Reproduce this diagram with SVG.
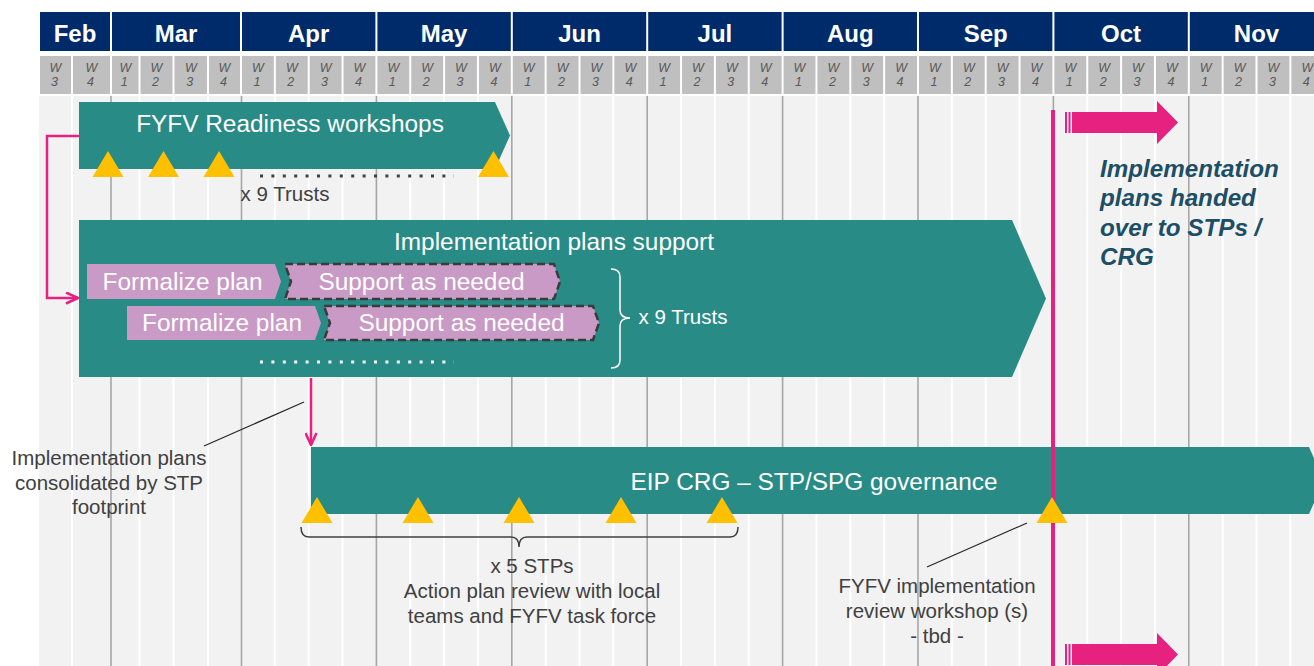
<svg xmlns="http://www.w3.org/2000/svg" width="1314" height="666" viewBox="0 0 1314 666">
<defs>
<style>
.mon{fill:#002B6A}
.mt{font-family:"Liberation Sans",Arial,sans-serif;font-size:24px;font-weight:bold;fill:#fff;text-anchor:middle}
.wc{fill:#BFBFBF}
.wk{font-family:"Liberation Sans",Arial,sans-serif;font-size:12.5px;font-style:italic;fill:#595959;text-anchor:middle}
.wl{stroke:#fff;stroke-width:2}
.ml{stroke:#A6A6A6;stroke-width:1.6}
.teal{fill:#288B86}
.bt{font-family:"Liberation Sans",Arial,sans-serif;font-size:24.4px;fill:#fff;text-anchor:middle}
.lav{fill:#C99AC6}
.dash{stroke:#3A3A3A;stroke-width:2.5;stroke-dasharray:8 4}
.tri{fill:#FFC000}
.lbl{font-family:"Liberation Sans",Arial,sans-serif;font-size:20.5px;fill:#404040;text-anchor:middle}
.pk{stroke:#E6217F;stroke-width:2.5;fill:none}
.pkf{fill:#E6217F}
.lead{stroke:#262626;stroke-width:1.2;fill:none}
.hand{font-family:"Liberation Sans",Arial,sans-serif;font-size:24.2px;font-weight:bold;font-style:italic;fill:#1C4E66}
</style>
<marker id="openhead" viewBox="0 0 14 13" refX="13" refY="6.5" markerWidth="14" markerHeight="13" markerUnits="userSpaceOnUse" orient="auto">
<path d="M1,1 L13,6.5 L1,12" fill="none" stroke="#E6217F" stroke-width="2.5"/>
</marker>
</defs>

<g id="background">
<rect x="39" y="96" width="1275" height="570" fill="#F2F2F2"/>
<g class="wl">
<line x1="72" y1="96" x2="72" y2="666"/>
<line x1="139.5" y1="96" x2="139.5" y2="666"/>
<line x1="173.5" y1="96" x2="173.5" y2="666"/>
<line x1="208" y1="96" x2="208" y2="666"/>
<line x1="274.85" y1="96" x2="274.85" y2="666"/>
<line x1="308.7" y1="96" x2="308.7" y2="666"/>
<line x1="342.55" y1="96" x2="342.55" y2="666"/>
<line x1="410.25" y1="96" x2="410.25" y2="666"/>
<line x1="444.1" y1="96" x2="444.1" y2="666"/>
<line x1="477.95" y1="96" x2="477.95" y2="666"/>
<line x1="545.65" y1="96" x2="545.65" y2="666"/>
<line x1="579.5" y1="96" x2="579.5" y2="666"/>
<line x1="613.35" y1="96" x2="613.35" y2="666"/>
<line x1="681.05" y1="96" x2="681.05" y2="666"/>
<line x1="714.9" y1="96" x2="714.9" y2="666"/>
<line x1="748.75" y1="96" x2="748.75" y2="666"/>
<line x1="816.45" y1="96" x2="816.45" y2="666"/>
<line x1="850.3" y1="96" x2="850.3" y2="666"/>
<line x1="884.15" y1="96" x2="884.15" y2="666"/>
<line x1="951.85" y1="96" x2="951.85" y2="666"/>
<line x1="985.7" y1="96" x2="985.7" y2="666"/>
<line x1="1019.55" y1="96" x2="1019.55" y2="666"/>
<line x1="1087.25" y1="96" x2="1087.25" y2="666"/>
<line x1="1121.1" y1="96" x2="1121.1" y2="666"/>
<line x1="1154.95" y1="96" x2="1154.95" y2="666"/>
<line x1="1222.65" y1="96" x2="1222.65" y2="666"/>
<line x1="1256.5" y1="96" x2="1256.5" y2="666"/>
<line x1="1290.35" y1="96" x2="1290.35" y2="666"/>
</g>
<g class="ml">
<line x1="111" y1="96" x2="111" y2="666"/>
<line x1="241.5" y1="96" x2="241.5" y2="666"/>
<line x1="376.4" y1="96" x2="376.4" y2="666"/>
<line x1="511.8" y1="96" x2="511.8" y2="666"/>
<line x1="647.2" y1="96" x2="647.2" y2="666"/>
<line x1="782.6" y1="96" x2="782.6" y2="666"/>
<line x1="918" y1="96" x2="918" y2="666"/>
<line x1="1053.4" y1="96" x2="1053.4" y2="666"/>
<line x1="1188.8" y1="96" x2="1188.8" y2="666"/>
</g>
</g>

<g id="header">
<rect class="mon" x="40" y="12" width="70" height="39"/>
<rect class="mon" x="112" y="12" width="128" height="39"/>
<rect class="mon" x="242" y="12" width="133.4" height="39"/>
<rect class="mon" x="377.4" y="12" width="133.4" height="39"/>
<rect class="mon" x="512.8" y="12" width="133.4" height="39"/>
<rect class="mon" x="648.2" y="12" width="133.4" height="39"/>
<rect class="mon" x="783.6" y="12" width="133.4" height="39"/>
<rect class="mon" x="919" y="12" width="133.4" height="39"/>
<rect class="mon" x="1054.4" y="12" width="133.4" height="39"/>
<rect class="mon" x="1189.8" y="12" width="133.4" height="39"/>
<text class="mt" x="75" y="42">Feb</text>
<text class="mt" x="176" y="42">Mar</text>
<text class="mt" x="308.7" y="42">Apr</text>
<text class="mt" x="444.1" y="42">May</text>
<text class="mt" x="579.5" y="42">Jun</text>
<text class="mt" x="714.9" y="42">Jul</text>
<text class="mt" x="850.3" y="42">Aug</text>
<text class="mt" x="985.7" y="42">Sep</text>
<text class="mt" x="1121.1" y="42">Oct</text>
<text class="mt" x="1256.5" y="42">Nov</text>
<g id="weeks">
<rect class="wc" x="40" y="56" width="31" height="38"/>
<rect class="wc" x="73" y="56" width="37" height="38"/>
<rect class="wc" x="112" y="56" width="26.5" height="38"/>
<rect class="wc" x="140.5" y="56" width="32" height="38"/>
<rect class="wc" x="174.5" y="56" width="32.5" height="38"/>
<rect class="wc" x="209" y="56" width="31" height="38"/>
<rect class="wc" x="242" y="56" width="31.85" height="38"/>
<rect class="wc" x="275.85" y="56" width="31.85" height="38"/>
<rect class="wc" x="309.7" y="56" width="31.85" height="38"/>
<rect class="wc" x="343.55" y="56" width="31.85" height="38"/>
<rect class="wc" x="377.4" y="56" width="31.85" height="38"/>
<rect class="wc" x="411.25" y="56" width="31.85" height="38"/>
<rect class="wc" x="445.1" y="56" width="31.85" height="38"/>
<rect class="wc" x="478.95" y="56" width="31.85" height="38"/>
<rect class="wc" x="512.8" y="56" width="31.85" height="38"/>
<rect class="wc" x="546.65" y="56" width="31.85" height="38"/>
<rect class="wc" x="580.5" y="56" width="31.85" height="38"/>
<rect class="wc" x="614.35" y="56" width="31.85" height="38"/>
<rect class="wc" x="648.2" y="56" width="31.85" height="38"/>
<rect class="wc" x="682.05" y="56" width="31.85" height="38"/>
<rect class="wc" x="715.9" y="56" width="31.85" height="38"/>
<rect class="wc" x="749.75" y="56" width="31.85" height="38"/>
<rect class="wc" x="783.6" y="56" width="31.85" height="38"/>
<rect class="wc" x="817.45" y="56" width="31.85" height="38"/>
<rect class="wc" x="851.3" y="56" width="31.85" height="38"/>
<rect class="wc" x="885.15" y="56" width="31.85" height="38"/>
<rect class="wc" x="919" y="56" width="31.85" height="38"/>
<rect class="wc" x="952.85" y="56" width="31.85" height="38"/>
<rect class="wc" x="986.7" y="56" width="31.85" height="38"/>
<rect class="wc" x="1020.55" y="56" width="31.85" height="38"/>
<rect class="wc" x="1054.4" y="56" width="31.85" height="38"/>
<rect class="wc" x="1088.25" y="56" width="31.85" height="38"/>
<rect class="wc" x="1122.1" y="56" width="31.85" height="38"/>
<rect class="wc" x="1155.95" y="56" width="31.85" height="38"/>
<rect class="wc" x="1189.8" y="56" width="31.85" height="38"/>
<rect class="wc" x="1223.65" y="56" width="31.85" height="38"/>
<rect class="wc" x="1257.5" y="56" width="31.85" height="38"/>
<rect class="wc" x="1291.35" y="56" width="31.85" height="38"/>
<text class="wk" x="55.5" y="72">W<tspan x="54.5" dy="14">3</tspan></text>
<text class="wk" x="91.5" y="72">W<tspan x="90.5" dy="14">4</tspan></text>
<text class="wk" x="125.3" y="72">W<tspan x="124.3" dy="14">1</tspan></text>
<text class="wk" x="156.5" y="72">W<tspan x="155.5" dy="14">2</tspan></text>
<text class="wk" x="190.8" y="72">W<tspan x="189.8" dy="14">3</tspan></text>
<text class="wk" x="224.5" y="72">W<tspan x="223.5" dy="14">4</tspan></text>
<text class="wk" x="257.9" y="72">W<tspan x="256.9" dy="14">1</tspan></text>
<text class="wk" x="291.8" y="72">W<tspan x="290.8" dy="14">2</tspan></text>
<text class="wk" x="325.6" y="72">W<tspan x="324.6" dy="14">3</tspan></text>
<text class="wk" x="359.5" y="72">W<tspan x="358.5" dy="14">4</tspan></text>
<text class="wk" x="393.3" y="72">W<tspan x="392.3" dy="14">1</tspan></text>
<text class="wk" x="427.2" y="72">W<tspan x="426.2" dy="14">2</tspan></text>
<text class="wk" x="461" y="72">W<tspan x="460" dy="14">3</tspan></text>
<text class="wk" x="494.9" y="72">W<tspan x="493.9" dy="14">4</tspan></text>
<text class="wk" x="528.7" y="72">W<tspan x="527.7" dy="14">1</tspan></text>
<text class="wk" x="562.6" y="72">W<tspan x="561.6" dy="14">2</tspan></text>
<text class="wk" x="596.4" y="72">W<tspan x="595.4" dy="14">3</tspan></text>
<text class="wk" x="630.3" y="72">W<tspan x="629.3" dy="14">4</tspan></text>
<text class="wk" x="664.1" y="72">W<tspan x="663.1" dy="14">1</tspan></text>
<text class="wk" x="698" y="72">W<tspan x="697" dy="14">2</tspan></text>
<text class="wk" x="731.8" y="72">W<tspan x="730.8" dy="14">3</tspan></text>
<text class="wk" x="765.7" y="72">W<tspan x="764.7" dy="14">4</tspan></text>
<text class="wk" x="799.5" y="72">W<tspan x="798.5" dy="14">1</tspan></text>
<text class="wk" x="833.4" y="72">W<tspan x="832.4" dy="14">2</tspan></text>
<text class="wk" x="867.2" y="72">W<tspan x="866.2" dy="14">3</tspan></text>
<text class="wk" x="901.1" y="72">W<tspan x="900.1" dy="14">4</tspan></text>
<text class="wk" x="934.9" y="72">W<tspan x="933.9" dy="14">1</tspan></text>
<text class="wk" x="968.8" y="72">W<tspan x="967.8" dy="14">2</tspan></text>
<text class="wk" x="1002.6" y="72">W<tspan x="1001.6" dy="14">3</tspan></text>
<text class="wk" x="1036.5" y="72">W<tspan x="1035.5" dy="14">4</tspan></text>
<text class="wk" x="1070.3" y="72">W<tspan x="1069.3" dy="14">1</tspan></text>
<text class="wk" x="1104.2" y="72">W<tspan x="1103.2" dy="14">2</tspan></text>
<text class="wk" x="1138" y="72">W<tspan x="1137" dy="14">3</tspan></text>
<text class="wk" x="1171.9" y="72">W<tspan x="1170.9" dy="14">4</tspan></text>
<text class="wk" x="1205.7" y="72">W<tspan x="1204.7" dy="14">1</tspan></text>
<text class="wk" x="1239.6" y="72">W<tspan x="1238.6" dy="14">2</tspan></text>
<text class="wk" x="1273.4" y="72">W<tspan x="1272.4" dy="14">3</tspan></text>
<text class="wk" x="1307.3" y="72">W<tspan x="1306.3" dy="14">4</tspan></text>
</g>
</g>

<g id="node-fyfv-readiness">
<polygon class="teal" points="79,102 495,102 510,135.5 495,169 79,169"/>
<text class="bt" x="290" y="132">FYFV Readiness workshops</text>
<line x1="260" y1="176" x2="454" y2="176" stroke="#404040" stroke-width="3" stroke-dasharray="3 8.4"/>
<text class="lbl" x="285" y="201">x 9 Trusts</text>
</g>

<g id="node-impl-support">
<polygon class="teal" points="79,220 1012,220 1046,298.5 1012,377 79,377"/>
<text class="bt" x="554" y="250">Implementation plans support</text>
<line x1="260" y1="362" x2="454" y2="362" stroke="#fff" stroke-width="3" stroke-dasharray="3 8.4"/>
<path d="M611,269 Q620,269 620,277 V310 Q620,318 630,318 Q620,318 620,326 V360 Q620,368 611,368" fill="none" stroke="#fff" stroke-width="1.5"/>
<text class="bt" x="683" y="324" style="font-size:20.5px">x 9 Trusts</text>
</g>

<g id="node-formalize-1">
<polygon class="lav" points="87,264 275,264 281,281.5 275,299 87,299"/>
<text class="bt" x="182.5" y="290">Formalize plan</text>
</g>
<g id="node-support-1">
<polygon class="lav dash" points="285,264 554,264 560,281.5 554,299 285,299 291,281.5"/>
<text class="bt" x="421.5" y="290">Support as needed</text>
</g>
<g id="node-formalize-2">
<polygon class="lav" points="127,306 315,306 321,323 315,340 127,340"/>
<text class="bt" x="222" y="331">Formalize plan</text>
</g>
<g id="node-support-2">
<polygon class="lav dash" points="324,306 593,306 599,323 593,340 324,340 330,323"/>
<text class="bt" x="461.5" y="331">Support as needed</text>
</g>

<g id="node-eip-crg">
<polygon class="teal" points="311,447 1309,447 1324,480.5 1309,514 311,514"/>
<text class="bt" x="814" y="490">EIP CRG – STP/SPG governance</text>
</g>

<g id="connectors">
<path class="pk" d="M79,136 H47 V298 H78" marker-end="url(#openhead)"/>
<path class="pk" d="M311,378 V445" marker-end="url(#openhead)"/>
<line class="lead" x1="204" y1="446" x2="304" y2="402"/>
<line class="lead" x1="927" y1="567" x2="1027" y2="523"/>
</g>

<g id="handover-line">
<rect class="pkf" x="1051" y="110" width="4" height="556"/>
<rect class="pkf" x="1065" y="112" width="2" height="21"/>
<rect class="pkf" x="1068.5" y="112" width="2" height="21"/>
<polygon class="pkf" points="1072,112 1157,112 1157,101 1178,122.5 1157,144 1157,133 1072,133"/>
<rect class="pkf" x="1065" y="644" width="2" height="21"/>
<rect class="pkf" x="1068.5" y="644" width="2" height="21"/>
<polygon class="pkf" points="1072,644 1157,644 1157,633 1178,654.5 1157,676 1157,665 1072,665"/>
</g>

<g id="milestones">
<polygon class="tri" points="108,151 123.5,177 92.5,177"/>
<polygon class="tri" points="163.5,151 179,177 148,177"/>
<polygon class="tri" points="219,151 234.5,177 203.5,177"/>
<polygon class="tri" points="493.5,151 509,177 478,177"/>
<polygon class="tri" points="317,497 332.5,523 301.5,523"/>
<polygon class="tri" points="418,497 433.5,523 402.5,523"/>
<polygon class="tri" points="519,497 534.5,523 503.5,523"/>
<polygon class="tri" points="621,497 636.5,523 605.5,523"/>
<polygon class="tri" points="722,497 737.5,523 706.5,523"/>
<polygon class="tri" points="1052,497 1067.5,523 1036.5,523"/>
</g>

<g id="labels">
<path d="M301,527 Q301,537 309,537 H511 Q519,537 519,547 Q519,537 527,537 H730 Q738,537 738,527" fill="none" stroke="#404040" stroke-width="1.5"/>
<text class="lbl" x="532" y="573">x 5 STPs</text>
<text class="lbl" x="532" y="598">Action plan review with local</text>
<text class="lbl" x="532" y="623">teams and FYFV task force</text>
<text class="lbl" x="109" y="465">Implementation plans</text>
<text class="lbl" x="109" y="490">consolidated by STP</text>
<text class="lbl" x="109" y="514">footprint</text>
<text class="lbl" x="937" y="593">FYFV implementation</text>
<text class="lbl" x="937" y="618">review workshop (s)</text>
<text class="lbl" x="937" y="643">- tbd -</text>
<text class="hand" x="1100" y="177">Implementation</text>
<text class="hand" x="1100" y="206">plans handed</text>
<text class="hand" x="1100" y="236">over to STPs /</text>
<text class="hand" x="1100" y="265">CRG</text>
</g>
</svg>
